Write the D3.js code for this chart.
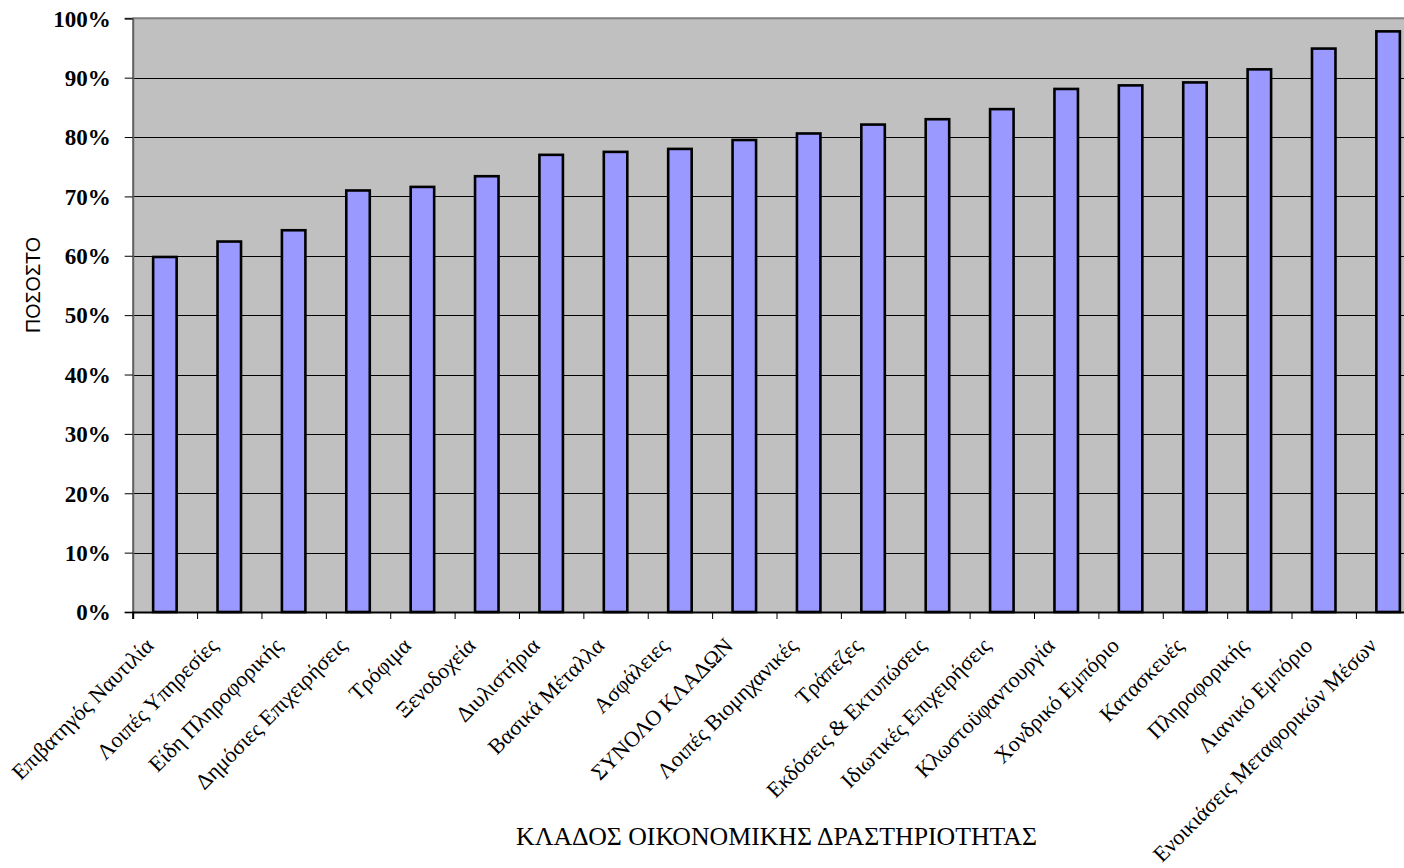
<!DOCTYPE html>
<html><head><meta charset="utf-8">
<script src="https://cdn.jsdelivr.net/npm/d3@7"></script>
<style>
html,body{margin:0;padding:0;background:#fff;overflow:hidden;}
svg{display:block;}
</style></head>
<body>
<svg id="chart" width="1404" height="868"></svg>
<script>
const categories = ["Επιβατηγός Ναυτιλία","Λοιπές Υπηρεσίες","Είδη Πληροφορικής","Δημόσιες Επιχειρήσεις","Τρόφιμα","Ξενοδοχεία","Διυλιστήρια","Βασικά Μέταλλα","Ασφάλειες","ΣΥΝΟΛΟ ΚΛΑΔΩΝ","Λοιπές Βιομηχανικές","Τράπεζες","Εκδόσεις & Εκτυπώσεις","Ιδιωτικές Επιχειρήσεις","Κλωστοϋφαντουργία","Χονδρικό Εμπόριο","Κατασκευές","Πληροφορικής","Λιανικό Εμπόριο","Ενοικιάσεις Μεταφορικών Μέσων"];
const values = [0.598,0.624,0.643,0.710,0.716,0.734,0.770,0.775,0.780,0.795,0.806,0.821,0.830,0.847,0.881,0.887,0.892,0.914,0.949,0.978];
const yTicks = [0,0.1,0.2,0.3,0.4,0.5,0.6,0.7,0.8,0.9,1.0];
const yTitle = "ΠΟΣΟΣΤΟ";
const xTitle = "ΚΛΑΔΟΣ ΟΙΚΟΝΟΜΙΚΗΣ ΔΡΑΣΤΗΡΙΟΤΗΤΑΣ";

const svg = d3.select("#chart");
const pLeft = 132.7, pTop = 18.3, pBottom = 612, pRight = 132.7 + 20*64.38;

const x = d3.scaleBand().domain(categories).range([pLeft, pRight]).paddingInner(0.635).paddingOuter(0.3175);
const y = d3.scaleLinear().domain([0,1]).range([pBottom, pTop]);

// plot background
svg.append("rect").attr("x", pLeft).attr("y", pTop).attr("width", pRight-pLeft).attr("height", pBottom-pTop).attr("fill", "#c0c0c0");

// gridlines
svg.append("g").selectAll("line").data(yTicks.filter(d => d>0 && d<1)).join("line")
  .attr("x1", pLeft).attr("x2", pRight)
  .attr("y1", d => Math.round(y(d))+0.5).attr("y2", d => Math.round(y(d))+0.5)
  .attr("stroke", "#000").attr("stroke-width", 1);

// top border
svg.append("line").attr("x1", pLeft).attr("x2", pRight).attr("y1", pTop).attr("y2", pTop)
  .attr("stroke", "#808080").attr("stroke-width", 2);

// bars
svg.append("g").selectAll("rect").data(values).join("rect")
  .attr("x", (d,i) => x(categories[i]))
  .attr("y", d => y(d))
  .attr("width", x.bandwidth())
  .attr("height", d => pBottom - y(d))
  .attr("fill", "#9999ff").attr("stroke", "#000").attr("stroke-width", 2.6);

// y axis
const yAxis = d3.axisLeft(y).tickValues(yTicks).tickFormat(d3.format(".0%")).tickSize(8).tickPadding(14);
const gy = svg.append("g").attr("transform", `translate(${pLeft},0)`).call(yAxis);
gy.select(".domain").attr("stroke", "#606060").attr("stroke-width", 2);
gy.selectAll(".tick line").attr("stroke", "#000");
gy.selectAll(".tick text").attr("font-family", "'Liberation Serif','Times New Roman',serif")
  .attr("font-weight", "bold").attr("font-size", 23).attr("fill", "#000").attr("dy", "0.34em");

// x axis (ticks at band boundaries)
const xb = d3.scaleLinear().domain([0, categories.length]).range([pLeft, pRight]);
const gx = svg.append("g").attr("transform", `translate(0,${pBottom})`)
  .call(d3.axisBottom(xb).tickValues(d3.range(0, categories.length+1)).tickSize(7).tickFormat(""));
gx.select(".domain").attr("stroke", "#000").attr("stroke-width", 2);
gx.selectAll(".tick line").attr("stroke", "#000");

// x labels
svg.append("g").selectAll("text").data(categories).join("text")
  .attr("transform", d => `translate(${x(d) + x.bandwidth()/2 - 10},647) rotate(-45)`)
  .attr("text-anchor", "end")
  .attr("font-family", "'Liberation Serif','Times New Roman',serif")
  .attr("font-size", 22).attr("fill", "#000")
  .text(d => d);

// titles
svg.append("text").attr("x", (pLeft+pRight)/2).attr("y", 845).attr("text-anchor", "middle")
  .attr("font-family", "'Liberation Serif','Times New Roman',serif").attr("font-size", 25.8).attr("fill", "#000")
  .text(xTitle);
svg.append("text").attr("transform", "translate(40,285) rotate(-90)").attr("text-anchor", "middle")
  .attr("font-family", "'Liberation Sans',Arial,sans-serif").attr("font-size", 19.7).attr("fill", "#000")
  .text(yTitle);
</script>
</body></html>
